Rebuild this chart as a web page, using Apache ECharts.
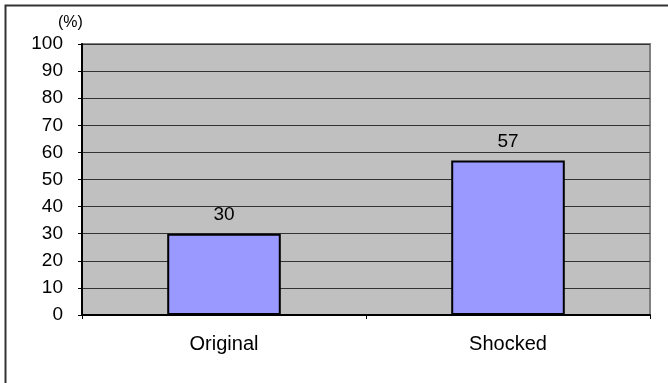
<!DOCTYPE html>
<html>
<head>
<meta charset="utf-8">
<script src="https://cdn.jsdelivr.net/npm/echarts@6/dist/echarts.min.js"></script>
<style>
  html, body { margin: 0; padding: 0; background: #ffffff; }
  #chart { width: 668px; height: 383px; }
</style>
</head>
<body>
<div id="chart"></div>
<script>
// Share of cases (%) before and after the shock
const categories = ['Original', 'Shocked'];
const values = [30, 57];
const yMin = 0;
const yMax = 100;
const yStep = 10;

const FONT = 'Liberation Sans, Arial, sans-serif';
const chart = echarts.init(document.getElementById('chart'), null, { renderer: 'canvas' });

chart.setOption({
  animation: false,
  backgroundColor: '#ffffff',
  textStyle: { fontFamily: FONT },
  graphic: [
    {
      type: 'rect',
      shape: { x: 5.5, y: 5.5, width: 700, height: 400 },
      style: { fill: 'none', stroke: '#333333', lineWidth: 2 },
      silent: true,
      z: 10
    },
    {
      type: 'text',
      left: 58,
      top: 15,
      style: { text: '(%)', fontSize: 16, fill: '#000000', fontFamily: FONT },
      silent: true
    }
  ],
  grid: {
    left: 82,
    right: 18,
    top: 44,
    bottom: 68,
    show: true,
    backgroundColor: '#C0C0C0',
    borderColor: '#808080',
    borderWidth: 2
  },
  xAxis: {
    type: 'category',
    data: categories,
    axisLine: { show: true, lineStyle: { color: '#000000', width: 2 } },
    axisTick: { show: true, length: 4, lineStyle: { color: '#000000', width: 1 } },
    axisLabel: { color: '#000000', fontSize: 20, margin: 19, fontFamily: FONT }
  },
  yAxis: {
    type: 'value',
    min: yMin,
    max: yMax,
    interval: yStep,
    axisLine: { show: true, lineStyle: { color: '#000000', width: 2 } },
    axisTick: { show: true, length: 4, lineStyle: { color: '#000000', width: 1 } },
    axisLabel: { color: '#000000', fontSize: 19, margin: 19, fontFamily: FONT },
    splitLine: { show: true, lineStyle: { color: '#333333', width: 1 } }
  },
  series: [
    {
      type: 'bar',
      data: values,
      barWidth: '40%',
      itemStyle: { color: '#9999FF', borderColor: '#000000', borderWidth: 2 },
      label: {
        show: true,
        position: 'top',
        distance: 9,
        color: '#000000',
        fontSize: 19,
        fontFamily: FONT
      }
    }
  ]
});
</script>
</body>
</html>
